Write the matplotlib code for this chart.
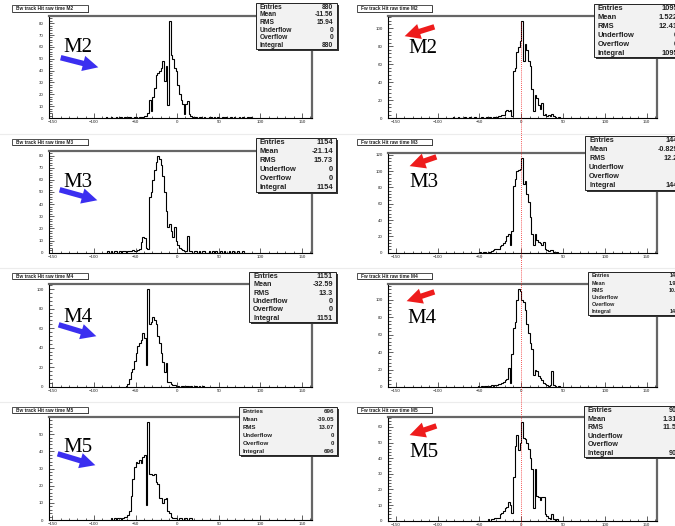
import numpy as np
import matplotlib
matplotlib.use("Agg")
import matplotlib.pyplot as plt
from matplotlib.patches import Rectangle, FancyArrowPatch
from matplotlib.lines import Line2D
from matplotlib.ticker import MultipleLocator
import matplotlib.transforms as mtransforms

# ---------------- data ----------------
BIN_WIDTH = 2

bw_m2_start = -86
bw_m2_counts = [1, 0, 0, 1, 0, 0, 1, 0, 1, 1, 0, 1, 0, 1, 1, 0, 0, 1, 1, 0, 1, 1, 1, 2,
                2, 4, 15, 6, 18, 25, 36, 38, 40, 42, 48, 31, 44, 11, 82, 53, 50, 42, 40, 28,
                20, 15, 12, 3, 12, 14, 3, 2, 1, 1,
                1, 0, 1, 1, 0, 1, 0, 0, 1, 1, 0, 1, 0, 1, 0, 0, 1, 0, 1, 0, 0, 1, 0, 1, 0,
                0, 1, 0, 1, 0, 0, 1, 0, 1, 0]

bw_m3_start = -84
bw_m3_counts = [1, 0, 1, 0, 1, 1, 0, 1, 0, 1, 1, 0, 1, 1, 1, 2, 1,
                1, 2, 3, 9, 13, 12, 4, 3, 46, 50, 60, 68, 75, 80, 77, 72, 63, 50, 34, 21,
                24, 18, 13, 21, 10, 6, 4, 3, 2, 1, 1, 14, 1,
                1, 0, 1, 1, 0, 1, 0, 1, 1, 0, 0, 1, 0, 1, 0, 1, 0, 0, 1, 0, 1, 0, 0, 1,
                0, 1, 0, 0, 1, 0, 0, 1, 0]

bw_m4_start = -62
bw_m4_counts = [1, 3, 8, 15, 18, 26, 35, 42, 45, 48, 55, 50, 22, 100, 64, 66, 71, 68, 64,
                52, 45, 35, 25, 15, 24, 5, 5, 3, 2, 2, 1, 1, 0, 1, 1, 0, 1, 1, 0, 1, 0,
                1, 1, 0, 1, 0, 1]

bw_m5_start = -80
bw_m5_counts = [1, 0, 1, 0, 1, 1, 0, 1, 2, 2, 3, 5, 14, 24, 31, 34, 33, 35, 33, 37, 38,
                9, 57, 27, 27, 26, 27, 22, 21, 13, 13, 10, 12, 13, 5, 4, 2, 1, 1, 1, 0,
                1, 1, 0, 1, 1, 0, 1, 1]

fw_m2_start = -84
fw_m2_counts = [0, 1, 0, 0, 1, 0, 0, 0, 1, 0, 0, 1, 0, 0, 1, 0, 0,
                0, 1, 0, 0, 1, 0, 1, 0, 1, 1, 1, 2, 3, 4, 4, 8, 9, 8, 9, 3, 52, 56, 73,
                79, 86, 108, 64, 82, 76, 64, 58, 32, 8, 26, 22, 15, 10, 17, 4, 5, 3, 4,
                3, 5, 2, 1, 0, 1]

fw_m3_start = -50
fw_m3_counts = [1, 0, 1, 1, 0, 1, 1, 2, 3, 4, 5, 4, 8, 10, 12, 14, 20, 23, 9, 26, 82,
                90, 100, 101, 103, 116, 84, 88, 72, 62, 44, 23, 9, 23, 15, 13, 12, 9, 13,
                5, 3, 2, 3, 3, 1, 0, 1]

fw_m4_start = -52
fw_m4_counts = [1, 0, 1, 0, 1, 1, 0, 1, 2, 1, 2, 2, 3, 3, 5, 6, 8, 9, 22, 5, 38, 67, 75,
                100, 112, 110, 100, 97, 88, 72, 62, 50, 43, 14, 20, 18, 13, 10, 8, 5, 3,
                2, 1, 2, 18, 2, 1, 0, 1]

fw_m5_start = -40
fw_m5_counts = [1, 0, 1, 1, 2, 2, 2, 4, 5, 6, 8, 9, 12, 10, 5, 28, 48, 55, 45, 50, 63,
                53, 52, 50, 46, 40, 33, 8, 33, 16, 15, 13, 15, 15, 4, 3, 2, 1, 4, 1, 0, 1]

bw_titles = ["Bw track Hit raw time M2", "Bw track Hit raw time M3",
             "Bw track Hit raw time M4", "Bw track Hit raw time M5"]
fw_titles = ["Fw track Hit raw time M2", "Fw track Hit raw time M3",
             "Fw track Hit raw time M4", "Fw track Hit raw time M5"]
stat_labels = ["Entries", "Mean", "RMS", "Underflow", "Overflow", "Integral"]
bw_stats = [["880", "-11.56", "15.94", "0", "0", "880"],
            ["1154", "-21.14", "15.73", "0", "0", "1154"],
            ["1151", "-32.59", "13.3", "0", "0", "1151"],
            ["696", "-39.05", "13.07", "0", "0", "696"]]
fw_stats = [["1095", "1.522", "12.41", "0", "0", "1095"],
            ["1444", "-0.8295", "12.27", "0", "0", "1444"],
            ["1434", "1.953", "10.93", "0", "0", "1434"],
            ["908", "1.319", "11.54", "0", "0", "908"]]
mod_labels = ["M2", "M3", "M4", "M5"]
bw_ysteps = [10, 10, 20, 10]
fw_ysteps = [20, 20, 20, 10]

bw_data = [(bw_m2_start, bw_m2_counts), (bw_m3_start, bw_m3_counts),
           (bw_m4_start, bw_m4_counts), (bw_m5_start, bw_m5_counts)]
fw_data = [(fw_m2_start, fw_m2_counts), (fw_m3_start, fw_m3_counts),
           (fw_m4_start, fw_m4_counts), (fw_m5_start, fw_m5_counts)]

# ---------------- layout ----------------
W, H = 675, 526
fig = plt.figure(figsize=(W / 100, H / 100), dpi=100)
fig.patch.set_facecolor("white")
plt.rcParams["font.family"] = ["Liberation Sans", "DejaVu Sans"]


def fx(x):
    return x / W


def fy(y):
    return 1 - y / H


def make_axes(l, t, r, b):
    return fig.add_axes([fx(l), fy(b), (r - l) / W, (b - t) / H])


def draw_hist(ax, start, counts, xlim, ystep):
    counts = np.asarray(counts, dtype=float)
    edges = start + BIN_WIDTH * np.arange(len(counts) + 1)
    ax.stairs(counts, edges, color="black", lw=0.8, baseline=0)
    ax.set_xlim(*xlim)
    ax.set_ylim(0, 1.05 * counts.max())
    ax.xaxis.set_major_locator(MultipleLocator(50))
    ax.xaxis.set_minor_locator(MultipleLocator(10))
    ax.yaxis.set_major_locator(MultipleLocator(ystep))
    ax.yaxis.set_minor_locator(MultipleLocator(ystep / 5))
    ax.tick_params(which="both", direction="in", top=False, right=False,
                   labelsize=3.2, width=0.5, colors="#222222")
    ax.tick_params(which="major", length=3.5)
    ax.tick_params(which="minor", length=1.8)
    ax.tick_params(axis="y", pad=4)
    ax.tick_params(axis="x", pad=1.5)
    for s in ("left", "bottom"):
        ax.spines[s].set_color("black")
        ax.spines[s].set_linewidth(0.8)
    for s in ("top", "right"):
        ax.spines[s].set_color("#666666")
        ax.spines[s].set_linewidth(1.6)


def title_box(x0, y0, x1, y1, text):
    fig.add_artist(Rectangle((fx(x0 + 1.2), fy(y1 + 1.2)), (x1 - x0) / W, (y1 - y0) / H,
                             transform=fig.transFigure, fc="#333333", ec="none", zorder=4))
    fig.add_artist(Rectangle((fx(x0), fy(y1)), (x1 - x0) / W, (y1 - y0) / H,
                             transform=fig.transFigure, fc="white", ec="#333333",
                             lw=0.6, zorder=5))
    fig.text(fx(x0 + 4), fy((y0 + y1) / 2), text, ha="left", va="center",
             fontsize=3.4, weight="bold", color="#222222", zorder=6)


def stats_box(x0, y0, x1, y1, values, fs, vx):
    fig.add_artist(Rectangle((fx(x0 + 2), fy(y1 + 2)), (x1 - x0) / W, (y1 - y0) / H,
                             transform=fig.transFigure, fc="#333333", ec="none", zorder=4))
    fig.add_artist(Rectangle((fx(x0), fy(y1)), (x1 - x0) / W, (y1 - y0) / H,
                             transform=fig.transFigure, fc="#f2f2f2", ec="#222222",
                             lw=0.7, zorder=5))
    row = (y1 - y0) / len(stat_labels)
    for i, (lab, val) in enumerate(zip(stat_labels, values)):
        yc = y0 + row * (i + 0.55)
        fig.text(fx(x0 + 4), fy(yc), lab, ha="left", va="center", fontsize=fs,
                 weight="bold", color="#222222", zorder=6)
        fig.text(fx(vx), fy(yc), val, ha="right", va="center", fontsize=fs,
                 weight="bold", color="#222222", zorder=6)


def arrow(p0, p1, color):
    fig.add_artist(FancyArrowPatch((fx(p0[0]), fy(p0[1])), (fx(p1[0]), fy(p1[1])),
                                   transform=fig.transFigure,
                                   arrowstyle="simple,head_length=0.8,head_width=0.8,tail_width=0.28",
                                   mutation_scale=14, color=color, lw=0, zorder=7))


# faint pad separators
for ysep in (134, 268, 402):
    fig.add_artist(Line2D([0, 1], [fy(ysep), fy(ysep)], transform=fig.transFigure,
                          color="#ececec", lw=0.8, zorder=1))

left_geom = [(49, 16, 312, 118), (49, 150.7, 312, 252.7),
             (49, 284.3, 312, 386.7), (49, 417.3, 312, 520)]
right_geom = [(388.3, 16, 656.7, 118.3), (388.3, 153.3, 656.7, 252.7),
              (388.3, 284.3, 656.7, 387), (388.3, 417.3, 656.7, 520.7)]
title_y = [(5, 12), (139, 145), (273, 279), (407, 413)]
left_stats_geom = [(256, 3, 337, 49, 4.8, 333), (256, 138, 336, 192, 5.4, 333),
                   (249, 272, 336, 322, 5.2, 333), (239, 407, 337, 455, 4.4, 334)]
right_stats_geom = [(594, 4, 700, 57, 5.4, 678), (585, 136, 700, 190, 5.2, 682),
                    (588, 272, 700, 315, 3.9, 682), (584, 406, 700, 457, 5.2, 681)]
blue_arrows = [((58, 57), (101, 68)), ((57, 189), (100, 201)),
               ((56, 324), (99, 337)), ((55, 453), (98, 466))]
red_arrows = [((437, 26), (402, 37)), ((439, 156), (407, 167)),
              ((437, 291), (404, 302)), ((439, 425), (407, 436))]
left_lab_pos = [(63, 52), (63, 187), (63, 322), (63, 452)]
right_lab_pos = [(408, 53), (409, 187), (407, 323), (409, 457)]

BLUE = "#3b2ff0"
RED = "#ee1c1c"

right_axes = []
for i in range(4):
    axl = make_axes(*left_geom[i])
    draw_hist(axl, bw_data[i][0], bw_data[i][1], (-154, 162), bw_ysteps[i])
    axr = make_axes(*right_geom[i])
    draw_hist(axr, fw_data[i][0], fw_data[i][1], (-159, 162), fw_ysteps[i])
    right_axes.append(axr)

    ty0, ty1 = title_y[i]
    title_box(12, ty0, 88, ty1, bw_titles[i])
    title_box(357, ty0, 432, ty1, fw_titles[i])

    x0, y0, x1, y1, fs, vx = left_stats_geom[i]
    stats_box(x0, y0, x1, y1, bw_stats[i], fs, vx)
    x0, y0, x1, y1, fs, vx = right_stats_geom[i]
    stats_box(x0, y0, x1, y1, fw_stats[i], fs, vx)

    arrow(*blue_arrows[i], BLUE)
    arrow(*red_arrows[i], RED)
    fig.text(fx(left_lab_pos[i][0]), fy(left_lab_pos[i][1]), mod_labels[i],
             ha="left", va="baseline", fontsize=15, family="Liberation Serif",
             color="black", zorder=7)
    fig.text(fx(right_lab_pos[i][0]), fy(right_lab_pos[i][1]), mod_labels[i],
             ha="left", va="baseline", fontsize=15, family="Liberation Serif",
             color="black", zorder=7)

# red dotted reference line at t = 0 through the Fw column
trans = mtransforms.blended_transform_factory(right_axes[0].transData, fig.transFigure)
fig.add_artist(Line2D([0, 0], [fy(22), 0], transform=trans, color=RED,
                      lw=0.6, ls=(0, (1, 1.5)), zorder=3))

fig.savefig("out.png", dpi=100)
